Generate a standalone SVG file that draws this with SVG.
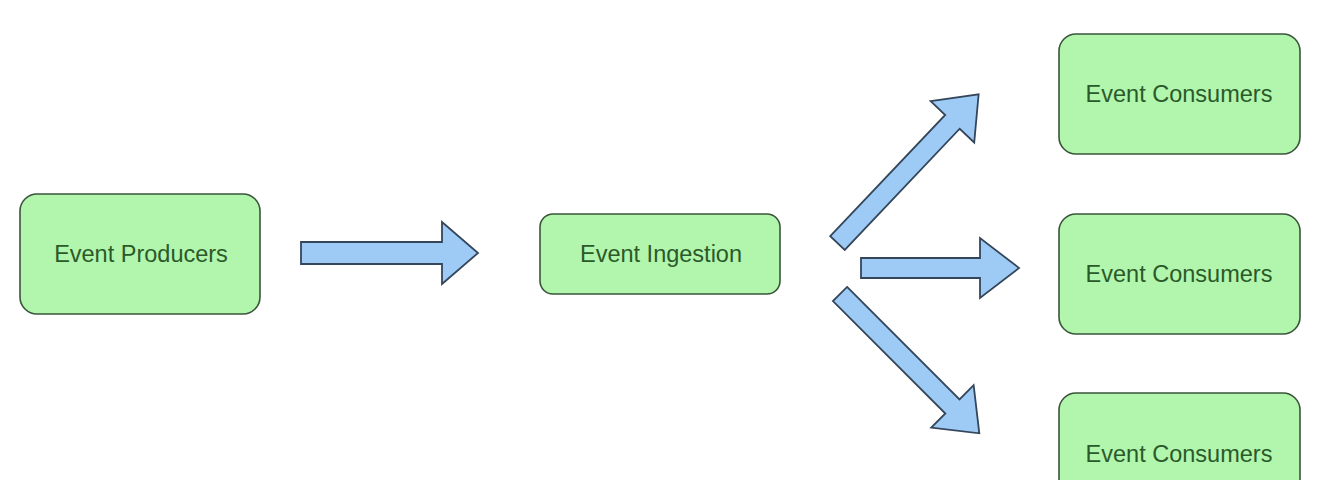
<svg xmlns="http://www.w3.org/2000/svg" width="1336" height="480" viewBox="0 0 1336 480">
<style>
.box{fill:#b2f5ad;stroke:#3a553a;stroke-width:1.6}
.lbl{font-family:"Liberation Sans",Arial,sans-serif;font-size:23.5px;fill:#2a5a2a;text-anchor:middle}
.arr{fill:#9ecbf6;stroke:#34465a;stroke-width:1.8;stroke-linejoin:miter}
</style>
<rect width="1336" height="480" fill="#ffffff"/>
<g id="producers">
<rect class="box" x="20" y="194" width="240" height="120" rx="17"/>
<text class="lbl" x="141" y="262">Event Producers</text>
</g>
<g id="ingestion">
<rect class="box" x="540" y="214" width="240" height="80" rx="13"/>
<text class="lbl" x="661" y="262">Event Ingestion</text>
</g>
<g id="consumers1">
<rect class="box" x="1059" y="34" width="241" height="120" rx="17"/>
<text class="lbl" x="1179" y="102">Event Consumers</text>
</g>
<g id="consumers2">
<rect class="box" x="1059" y="214" width="241" height="120" rx="17"/>
<text class="lbl" x="1179" y="282">Event Consumers</text>
</g>
<g id="consumers3">
<rect class="box" x="1059" y="393" width="241" height="120" rx="17"/>
<text class="lbl" x="1179" y="462">Event Consumers</text>
</g>
<g id="connectors">
<polygon class="arr" transform="translate(301,253)" points="0,-11 141,-11 141,-31 177,0 141,31 141,11 0,11"/>
<polygon class="arr" transform="translate(861,268)" points="0,-10 119,-10 119,-30 158,0 119,30 119,10 0,10"/>
<polygon class="arr" transform="translate(837.5,243) rotate(-46.5)" points="0,-10 167,-10 167,-30 205,0 167,30 167,10 0,10"/>
<polygon class="arr" transform="translate(840,294) rotate(45)" points="0,-10 159,-10 159,-30 197,0 159,30 159,10 0,10"/>
</g>
</svg>
